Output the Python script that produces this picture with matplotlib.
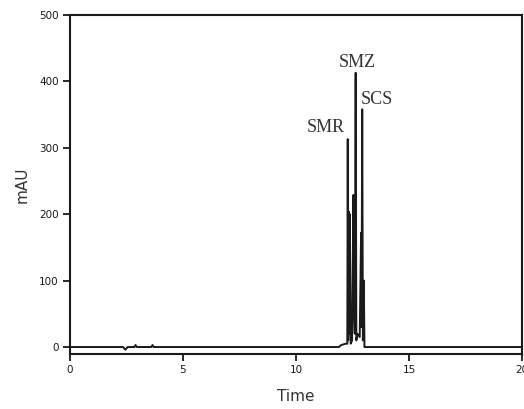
import matplotlib
matplotlib.use("Agg")
import matplotlib.pyplot as plt

# chromatogram trace (time in min, absorbance in mAU)
time = [0, 2.35, 2.45, 2.55, 2.85, 2.9, 2.95, 3.6, 3.65, 3.7, 11.9, 12.0, 12.2,
        12.27, 12.29, 12.31, 12.33, 12.35, 12.38, 12.42, 12.48, 12.54, 12.57,
        12.6, 12.64, 12.67, 12.72, 12.82, 12.88, 12.9, 12.93, 12.96, 12.98,
        13.0, 13.03, 20]
mau = [0, 0, -4, 0, 0, 3, 0, 0, 3, 0, 0, 3, 5,
       5, 313, 10, 204, 20, 200, 5, 10, 229, 60,
       20, 413, 10, 20, 15, 172, 30, 358, 10, 40,
       100, 0, 0]

peak_names = ["SMR", "SMZ", "SCS"]
peak_label_x = [12.17, 12.7, 12.88]
peak_label_y = [330, 429, 373]
peak_label_ha = ["right", "center", "left"]

xticks = [0, 5, 10, 15, 20]
yticks = [0, 100, 200, 300, 400, 500]

ink = "#1a1a1a"

fig = plt.figure(figsize=(5.24, 4.09), dpi=100)
ax = fig.add_axes([70 / 524, 1 - 354 / 409, 452 / 524, 339 / 409])

ax.plot(time, mau, color=ink, linewidth=1.4)

for name, x, y, ha in zip(peak_names, peak_label_x, peak_label_y, peak_label_ha):
    ax.text(x, y, name, ha=ha, va="center", fontsize=13,
            family="Liberation Serif", color="#333333")

ax.set_xlim(0, 20)
ax.set_ylim(-10.5, 500)
ax.set_xticks(xticks)
ax.set_yticks(yticks)
ax.tick_params(direction="out", length=5, width=1.3, colors=ink,
               labelsize=7.5, pad=3)

for sp in ax.spines.values():
    sp.set_linewidth(1.5)
    sp.set_color(ink)

ax.set_xlabel("Time", fontsize=11, color="#333333", labelpad=10)
ax.set_ylabel("mAU", fontsize=11, color="#333333", labelpad=7)

fig.savefig("out.png", dpi=100)
